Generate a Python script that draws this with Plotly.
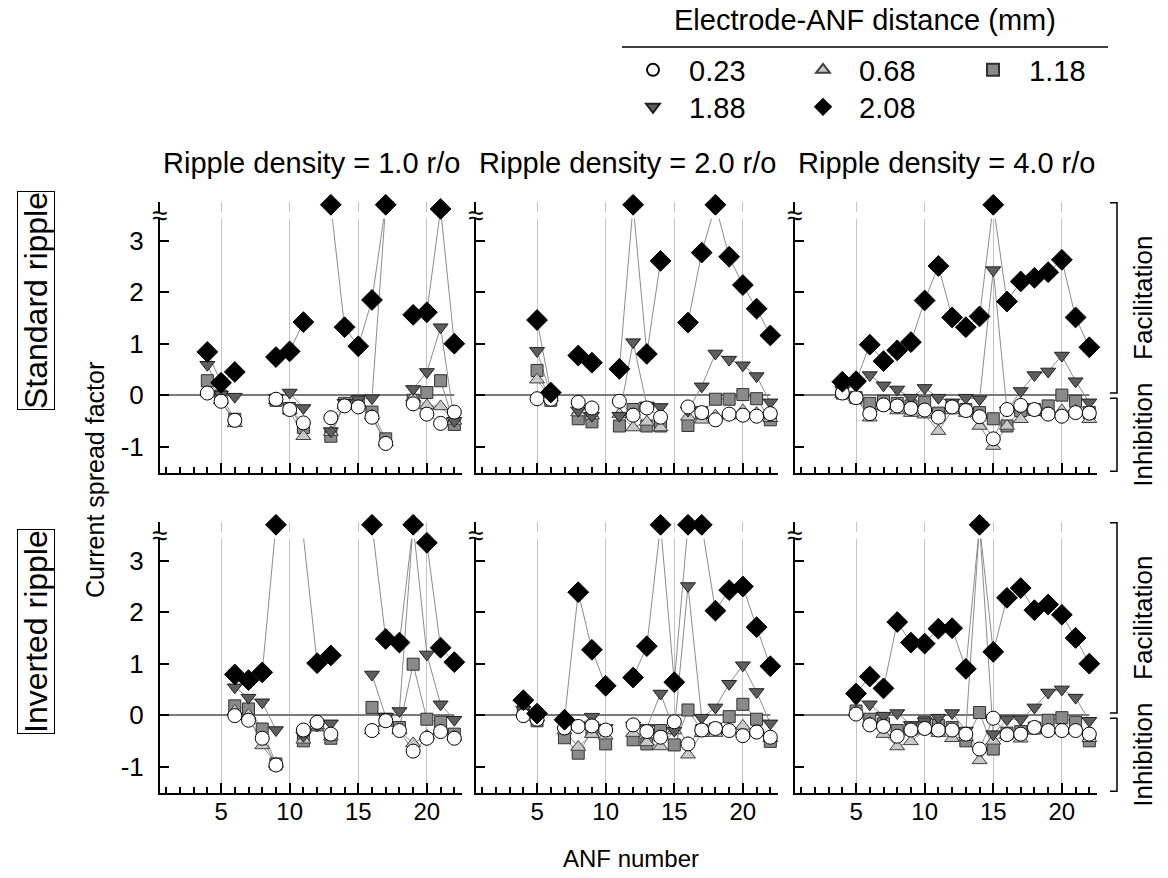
import plotly.graph_objects as go

# ---------------- data ----------------
ANF = list(range(4, 23))          # ANF numbers 4..22
N = None
OFF = 3.7    # value above the axis break (drawn at the top)
GAP = 3.48   # value falling inside the axis break (not shown as a marker)

distances = ["0.23", "0.68", "1.18", "1.88", "2.08"]
row_labels = ["Standard ripple", "Inverted ripple"]
densities = ["1.0", "2.0", "4.0"]

# Standard ripple, 1.0 r/o            4     5     6   7  8    9    10    11  12   13    14    15    16    17  18   19    20    21    22
std1_023 = [0.04, -0.12, -0.49, N, N, -0.08, -0.28, -0.54, N, -0.44, -0.21, -0.23, -0.43, -0.94, N, -0.17, -0.37, -0.55, -0.33]
std1_068 = [0.05, -0.10, -0.55, N, N, -0.10, -0.30, -0.80, N, -0.72, -0.20, -0.15, -0.40, -0.92, N, -0.05, -0.20, -0.22, -0.50]
std1_118 = [0.28, -0.02, -0.47, N, N, -0.10, -0.26, -0.63, N, -0.80, -0.16, -0.12, -0.33, -0.85, N, -0.10, 0.05, 0.28, -0.57]
std1_188 = [0.59, 0.01, -0.03, N, N, -0.05, 0.05, -0.25, N, -0.70, -0.15, -0.08, -0.06, OFF, N, 0.12, 0.45, 1.32, -0.50]
std1_208 = [0.84, 0.24, 0.45, N, N, 0.74, 0.85, 1.42, N, OFF, 1.32, 0.95, 1.85, OFF, N, 1.56, 1.61, 3.62, 1.00]

# Standard ripple, 2.0 r/o
std2_023 = [N, -0.07, -0.08, N, -0.14, -0.25, N, -0.12, -0.39, -0.25, -0.43, N, -0.23, -0.34, -0.48, -0.37, -0.39, -0.41, -0.36]
std2_068 = [N, 0.30, -0.05, N, -0.34, -0.40, N, -0.37, -0.63, -0.52, -0.63, N, -0.42, -0.48, -0.40, -0.40, -0.30, -0.35, -0.45]
std2_118 = [N, 0.48, -0.10, N, -0.46, -0.52, N, -0.60, -0.28, -0.60, -0.60, N, -0.59, -0.34, -0.08, -0.08, 0.01, -0.07, -0.48]
std2_188 = [N, 0.86, 0.00, N, -0.30, -0.40, N, -0.40, 1.03, -0.20, -0.23, N, -0.30, 0.17, 0.81, 0.69, 0.58, 0.37, -0.14]
std2_208 = [N, 1.46, 0.05, N, 0.77, 0.63, N, 0.51, OFF, 0.80, 2.61, N, 1.41, 2.77, OFF, 2.69, 2.14, 1.68, 1.16]

# Standard ripple, 4.0 r/o
std4_023 = [0.04, -0.05, -0.36, -0.19, -0.21, -0.26, -0.29, -0.43, -0.23, -0.30, -0.42, -0.85, -0.28, -0.20, -0.28, -0.37, -0.41, -0.34, -0.35]
std4_068 = [0.02, -0.05, -0.44, -0.22, -0.30, -0.35, -0.38, -0.70, -0.30, -0.35, -0.60, -0.99, -0.60, -0.47, -0.30, -0.35, -0.30, -0.30, -0.47]
std4_118 = [0.04, -0.05, -0.16, -0.12, -0.16, -0.21, -0.14, -0.35, -0.23, -0.28, -0.34, -0.46, -0.60, -0.30, -0.28, -0.21, 0.00, -0.12, -0.34]
std4_188 = [0.10, 0.20, 0.39, 0.19, 0.11, -0.05, 0.14, -0.05, -0.14, -0.05, -0.08, 2.43, -0.30, 0.08, 0.39, 0.46, 0.77, 0.27, -0.14]
std4_208 = [0.26, 0.27, 0.98, 0.66, 0.87, 1.03, 1.84, 2.51, 1.51, 1.32, 1.53, OFF, 1.82, 2.21, 2.28, 2.39, 2.63, 1.51, 0.93]

# Inverted ripple, 1.0 r/o
inv1_023 = [N, N, -0.01, -0.10, -0.45, -0.97, N, -0.29, -0.14, -0.37, N, N, -0.30, -0.11, -0.30, -0.70, -0.45, -0.32, -0.45]
inv1_068 = [N, N, 0.08, 0.00, -0.59, -0.95, N, -0.48, -0.20, -0.42, N, N, -0.30, -0.15, -0.30, -0.55, -0.40, -0.30, -0.42]
inv1_118 = [N, N, 0.18, 0.12, -0.27, -0.95, N, -0.50, -0.19, -0.45, N, N, 0.15, -0.08, -0.24, 0.99, -0.08, -0.14, -0.37]
inv1_188 = [N, N, 0.54, 0.34, 0.25, -0.29, N, -0.40, -0.20, -0.16, N, N, 0.79, -0.03, 0.08, OFF, 1.18, 0.21, -0.09]
inv1_208 = [N, N, 0.79, 0.68, 0.83, OFF, N, GAP, 1.01, 1.16, N, N, OFF, 1.48, 1.41, OFF, 3.35, 1.31, 1.03]

# Inverted ripple, 2.0 r/o
inv2_023 = [-0.01, -0.08, N, -0.25, -0.22, -0.21, -0.29, N, -0.19, -0.32, -0.43, -0.13, -0.56, -0.29, -0.26, -0.30, -0.40, -0.33, -0.43]
inv2_068 = [0.05, -0.05, N, -0.30, -0.62, -0.37, -0.40, N, -0.35, -0.53, -0.61, -0.30, -0.77, -0.35, -0.35, -0.30, -0.21, -0.30, -0.45]
inv2_118 = [0.07, -0.11, N, -0.44, -0.74, -0.32, -0.56, N, -0.48, -0.56, -0.30, -0.58, 0.10, -0.30, -0.27, -0.03, 0.21, -0.08, -0.51]
inv2_188 = [0.10, -0.05, N, -0.15, -0.20, -0.03, -0.25, N, -0.20, -0.25, 0.42, -0.30, 2.51, -0.05, 0.15, 0.61, 0.97, 0.45, -0.16]
inv2_208 = [0.29, 0.03, N, -0.09, 2.39, 1.27, 0.57, N, 0.73, 1.34, OFF, 0.64, OFF, OFF, 2.03, 2.43, 2.50, 1.71, 0.95]

# Inverted ripple, 4.0 r/o
inv4_023 = [N, 0.02, -0.19, -0.22, -0.41, -0.29, -0.26, -0.29, -0.29, -0.37, -0.66, -0.06, -0.38, -0.37, -0.24, -0.30, -0.30, -0.30, -0.37]
inv4_068 = [N, 0.05, -0.15, -0.37, -0.61, -0.51, -0.30, -0.35, -0.45, -0.43, -0.88, -0.50, -0.38, -0.46, -0.30, -0.28, -0.30, -0.30, -0.45]
inv4_118 = [N, 0.08, -0.08, -0.17, -0.30, -0.27, -0.14, -0.20, -0.24, -0.50, 0.05, -0.66, -0.35, -0.32, -0.25, -0.10, -0.05, -0.14, -0.50]
inv4_188 = [N, 0.31, 0.21, -0.01, 0.04, -0.19, -0.12, -0.05, 0.04, -0.30, OFF, -0.37, -0.08, -0.08, 0.15, 0.44, 0.50, 0.34, -0.11]
inv4_208 = [N, 0.42, 0.75, 0.52, 1.81, 1.41, 1.39, 1.68, 1.69, 0.90, OFF, 1.23, 2.28, 2.47, 2.04, 2.15, 1.95, 1.50, 1.00]

y_ticks = [-1, 0, 1, 2, 3]
x_ticks_major = 5

panels = [
    [[std1_023, std1_068, std1_118, std1_188, std1_208],
     [std2_023, std2_068, std2_118, std2_188, std2_208],
     [std4_023, std4_068, std4_118, std4_188, std4_208]],
    [[inv1_023, inv1_068, inv1_118, inv1_188, inv1_208],
     [inv2_023, inv2_068, inv2_118, inv2_188, inv2_208],
     [inv4_023, inv4_068, inv4_118, inv4_188, inv4_208]],
]

# ---------------- styles ----------------
W, H = 1168, 878
FONT = "Liberation Sans, Arial, sans-serif"
symbols = ["circle", "triangle-up", "square", "triangle-down", "diamond"]
fills = ["#ffffff", "#c8c8c8", "#8a8a8a", "#5e5e5e", "#000000"]
outlines = ["#000000", "#404040", "#303030", "#202020", "#000000"]
sizes = [14, 13, 12, 13, 16]
draw_order = [2, 1, 3, 0, 4]
LINE_COLOR = "#8c8c8c"
NB = "\u00a0"

XR = [0.55, 22.56]
YR = [-1.52, 3.76]
col_px = [(160, 462), (476, 778), (795, 1097)]
row_px = [(201.7, 473.3), (521.7, 793.3)]
XDOM = [[a / W, b / W] for a, b in col_px]
YDOM = [[1 - b / H, 1 - a / H] for a, b in row_px]
BREAK = (3.43, 3.56)


def ypaper(r, v):
    d0, d1 = YDOM[r]
    return d0 + (v - YR[0]) / (YR[1] - YR[0]) * (d1 - d0)


def broken_segments(xs, ys, lo, hi):
    """Connect consecutive points, leaving out the part inside the axis break."""
    X, Y = [], []
    for (xa, ya), (xb, yb) in zip(zip(xs, ys), zip(xs[1:], ys[1:])):
        if ya is None or yb is None:
            continue
        if ya == yb:
            pieces = [] if lo < ya < hi else [(0.0, 1.0)]
        else:
            t1, t2 = sorted(((lo - ya) / (yb - ya), (hi - ya) / (yb - ya)))
            pieces = []
            if t1 > 0:
                pieces.append((0.0, min(t1, 1.0)))
            if t2 < 1:
                pieces.append((max(t2, 0.0), 1.0))
        for ta, tb in pieces:
            if tb <= ta:
                continue
            X += [xa + ta * (xb - xa), xa + tb * (xb - xa), None]
            Y += [ya + ta * (yb - ya), ya + tb * (yb - ya), None]
    return X, Y


fig = go.Figure()
layout = dict(
    width=W, height=H, margin=dict(l=0, r=0, t=0, b=0),
    paper_bgcolor="white", plot_bgcolor="white",
    font=dict(family=FONT, size=24, color="black"),
    showlegend=True,
)
shapes, annotations = [], []

for r in range(2):
    for c in range(3):
        k = r * 3 + c + 1
        xa = "x" if k == 1 else f"x{k}"
        ya = "y" if k == 1 else f"y{k}"
        series = panels[r][c]
        for i in range(5):
            lx, ly = broken_segments(ANF, series[i], *BREAK)
            fig.add_trace(go.Scatter(
                x=lx, y=ly, mode="lines", xaxis=xa, yaxis=ya,
                line=dict(color=LINE_COLOR, width=1), connectgaps=False,
                showlegend=False, hoverinfo="skip"))
        for i in draw_order:
            my = [None if (v is not None and BREAK[0] <= v <= BREAK[1]) else v for v in series[i]]
            fig.add_trace(go.Scatter(
                x=ANF, y=my, mode="markers", xaxis=xa, yaxis=ya, cliponaxis=False,
                name=NB + NB + distances[i], legendgroup=distances[i],
                legend="legend" if i < 3 else "legend2", legendrank=i,
                showlegend=(k == 1),
                marker=dict(symbol=symbols[i], size=sizes[i], color=fills[i],
                            line=dict(color=outlines[i], width=1))))
        layout[f"xaxis{k}"] = dict(
            domain=XDOM[c], range=XR, anchor=ya,
            tickmode="linear", tick0=0, dtick=x_ticks_major,
            ticks="inside", ticklen=10, tickwidth=2, tickcolor="black",
            showline=True, linewidth=2, linecolor="black",
            showgrid=True, gridcolor="#c4c4c4", gridwidth=1, zeroline=False,
            showticklabels=(r == 1), tickfont=dict(size=24), ticklabelstandoff=-4,
            minor=dict(dtick=1, tick0=0, ticks="inside", ticklen=6, tickwidth=1.5,
                       tickcolor="black", showgrid=False),
        )
        layout[f"yaxis{k}"] = dict(
            domain=YDOM[r], range=YR, anchor=xa,
            tickmode="array", tickvals=y_ticks, ticktext=[str(t) for t in y_ticks],
            ticks="inside", ticklen=9, tickwidth=2, tickcolor="black",
            showline=True, linewidth=2, linecolor="black",
            showgrid=False, zeroline=False, showticklabels=(c == 0),
            tickfont=dict(size=26), ticklabelstandoff=9,
        )
        # zero reference line
        shapes.append(dict(type="line", xref=xa, yref=ya, x0=XR[0], x1=22, y0=0, y1=0,
                           line=dict(color="#7a7a7a", width=2), layer="between"))
        # axis break: gap in the grid lines and in the left spine
        shapes.append(dict(type="rect", xref=xa, yref=ya, x0=XR[0], x1=XR[1],
                           y0=BREAK[0], y1=BREAK[1],
                           fillcolor="white", line=dict(width=0), layer="between"))
        shapes.append(dict(type="rect", xref="paper", yref="paper",
                           x0=XDOM[c][0] - 6 / W, x1=XDOM[c][0] + 3 / W,
                           y0=ypaper(r, BREAK[0]), y1=ypaper(r, BREAK[1]),
                           fillcolor="white", line=dict(width=0), layer="above"))
        annotations.append(dict(text="≈", xref="paper", yref="paper",
                                x=XDOM[c][0] - 1 / W, y=ypaper(r, sum(BREAK) / 2),
                                xanchor="center", yanchor="middle", showarrow=False,
                                font=dict(size=28)))

# column titles
for c in range(3):
    annotations.append(dict(text=f"Ripple density = {densities[c]} r/o", xref="paper", yref="paper",
                            x=sum(XDOM[c]) / 2, y=1 - 163 / H, xanchor="center", yanchor="middle",
                            showarrow=False, font=dict(size=29)))

# row labels (boxed)
for r, yc in enumerate([301, 632]):
    annotations.append(dict(text=row_labels[r], xref="paper", yref="paper", x=36 / W, y=1 - yc / H,
                            xanchor="center", yanchor="middle", textangle=-90, showarrow=False,
                            font=dict(size=32), bordercolor="black", borderwidth=1, borderpad=0))

annotations.append(dict(text="Current spread factor", xref="paper", yref="paper", x=95 / W, y=1 - 480 / H,
                        xanchor="center", yanchor="middle", textangle=-90, showarrow=False,
                        font=dict(size=25)))
annotations.append(dict(text="ANF number", xref="paper", yref="paper", x=631 / W, y=1 - 858 / H,
                        xanchor="center", yanchor="middle", showarrow=False, font=dict(size=24)))

# facilitation / inhibition brackets
xb, xh = 1117 / W, 1110 / W
for r in range(2):
    for (top, bot, label) in [(3.74, 0.04, "Facilitation"), (-0.06, -1.48, "Inhibition")]:
        yt, yb = ypaper(r, top), ypaper(r, bot)
        shapes.append(dict(type="path", xref="paper", yref="paper",
                           path=f"M {xh},{yt} L {xb},{yt} L {xb},{yb} L {xh},{yb}",
                           line=dict(color="black", width=1.5)))
        annotations.append(dict(text=label, xref="paper", yref="paper", x=1143 / W, y=(yt + yb) / 2,
                                xanchor="center", yanchor="middle", textangle=-90, showarrow=False,
                                font=dict(size=26)))

# legend title and rule
annotations.append(dict(text="Electrode-ANF distance (mm)", xref="paper", yref="paper",
                        x=865 / W, y=1 - 20 / H, xanchor="center", yanchor="middle",
                        showarrow=False, font=dict(size=29)))
shapes.append(dict(type="line", xref="paper", yref="paper", x0=622 / W, x1=1108 / W,
                   y0=1 - 47 / H, y1=1 - 47 / H, line=dict(color="black", width=1.5)))

layout["legend"] = dict(orientation="h", x=633 / W, xanchor="left", y=1 - 70 / H, yanchor="middle",
                        entrywidth=125, itemsizing="constant", font=dict(size=29),
                        bgcolor="rgba(0,0,0,0)", traceorder="normal")
layout["legend2"] = dict(orientation="h", x=633 / W, xanchor="left", y=1 - 107 / H, yanchor="middle",
                         entrywidth=125, itemsizing="constant", font=dict(size=29),
                         bgcolor="rgba(0,0,0,0)", traceorder="normal")
layout["shapes"] = shapes
layout["annotations"] = annotations
fig.update_layout(**layout)
fig.write_html("out.html", config={"displayModeBar": False},
               post_script="document.body.style.margin='0px';")
